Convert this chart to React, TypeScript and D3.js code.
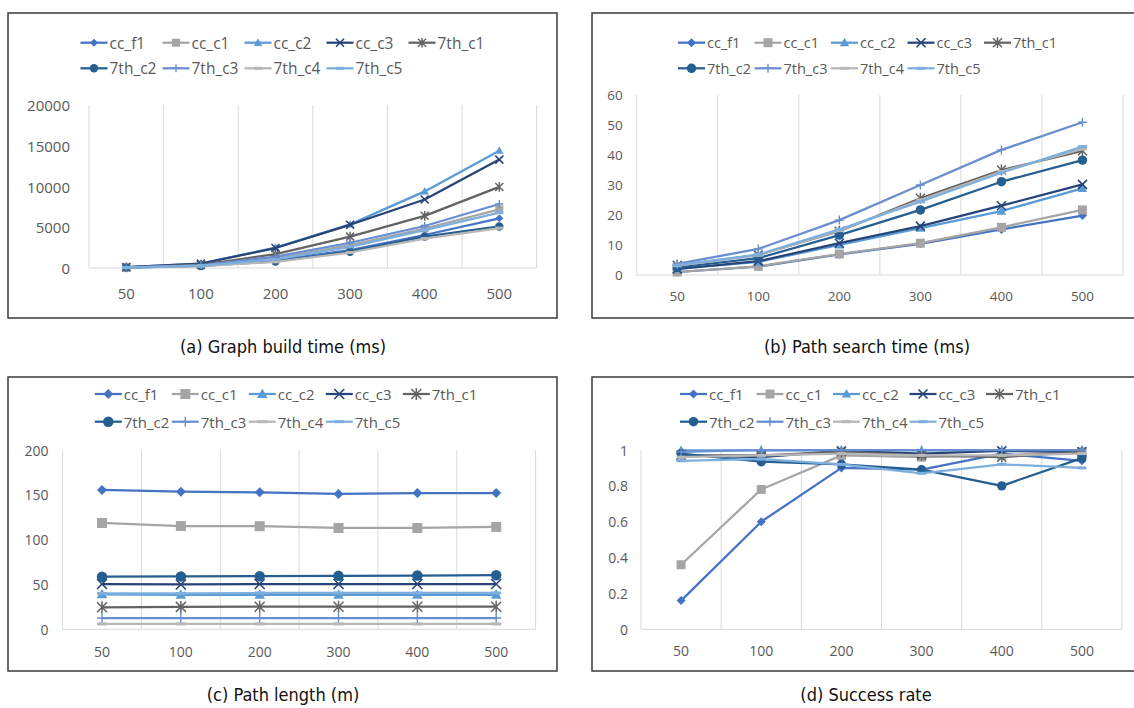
import React from 'react';
import * as d3 from 'd3';

const categories = ['50', '100', '200', '300', '400', '500'];
const seriesNames = ['cc_f1', 'cc_c1', 'cc_c2', 'cc_c3', '7th_c1', '7th_c2', '7th_c3', '7th_c4', '7th_c5'];
const seriesColors = ['#4472C4', '#A5A5A5', '#5B9BD5', '#264478', '#636363', '#255E91', '#698ED0', '#B7B7B7', '#7CAFDD'];
const seriesMarkers = ['diamond', 'square', 'triangle', 'x', 'star', 'circle', 'plus', 'dash', 'dash'];

// (a) graph build time, ms
const buildTime = [
  [60, 300, 950, 2200, 4050, 6100],
  [70, 320, 1200, 2800, 4850, 7200],
  [100, 550, 2500, 5350, 9400, 14400],
  [100, 530, 2450, 5300, 8400, 13300],
  [80, 400, 1700, 3850, 6400, 9950],
  [50, 250, 800, 2000, 3850, 5100],
  [70, 330, 1400, 3100, 5150, 7850],
  [40, 230, 750, 1900, 3600, 4900],
  [60, 300, 1050, 2600, 4650, 6800],
];
const buildTicks = [0, 5000, 10000, 15000, 20000];

// (b) path search time, ms
const searchTime = [
  [1, 2.8, 6.9, 10.4, 15.2, 19.8],
  [1, 2.9, 7.0, 10.6, 15.9, 21.7],
  [2, 4.4, 10.0, 15.6, 21.3, 28.9],
  [2, 4.6, 10.6, 16.3, 23.1, 30.2],
  [3.2, 6.7, 14.6, 25.6, 35, 41.4],
  [2.5, 5.6, 13.3, 21.7, 31.1, 38.3],
  [3.7, 8.7, 18.3, 30, 41.7, 50.9],
  [3.1, 6.6, 14.8, 25, 34.5, 42],
  [3.3, 6.8, 15.2, 24.4, 34.1, 42.8],
];
const searchTicks = [0, 10, 20, 30, 40, 50, 60];

// (c) path length, m
const pathLength = [
  [155.5, 153.5, 152.8, 151, 152, 152],
  [118.6, 115.2, 115, 113, 113, 114.2],
  [39, 38.5, 38.5, 38.5, 38.5, 38.5],
  [50.5, 50, 50.5, 50.5, 50.5, 50.5],
  [24.5, 25, 25.2, 25.2, 25.2, 25.2],
  [58.7, 59, 59.3, 59.6, 60, 60.3],
  [12.6, 12.6, 12.6, 12.6, 12.6, 12.6],
  [6, 6, 6, 6, 6, 6],
  [40, 40, 40.5, 40.5, 40.5, 40.5],
];
const lengthTicks = [0, 50, 100, 150, 200];

// (d) success rate
const successRate = [
  [0.16, 0.6, 0.9, 0.89, 0.98, 0.94],
  [0.36, 0.78, 0.97, 0.96, 0.97, 0.99],
  [0.998, 0.998, 0.998, 0.998, 0.998, 0.998],
  [0.97, 0.96, 0.995, 0.98, 0.995, 0.99],
  [0.97, 0.97, 0.99, 0.97, 0.96, 0.99],
  [0.98, 0.935, 0.92, 0.89, 0.8, 0.955],
  [0.99, 1, 1, 1, 1, 1],
  [0.96, 0.97, 0.98, 0.97, 0.97, 0.98],
  [0.94, 0.95, 0.92, 0.87, 0.92, 0.9],
];
const rateTicks = [0, 0.2, 0.4, 0.6, 0.8, 1];
const rateTickLabels = ['0', '0.2', '0.4', '0.6', '0.8', '1'];

const panels = [
  {
    title: '(a) Graph build time (ms)', data: buildTime, ticks: buildTicks, tickLabels: buildTicks.map(String),
    box: [8, 13, 549, 305], plot: [89, 536.6, 105, 268], titlePos: [283, 346],
    legend: { x: 80.5, pitch: 82, rows: [42.7, 68.3], font: 15.5 }, font: 15, labelGap: 19, xLabelY: 293, ms: 4,
  },
  {
    title: '(b) Path search time (ms)', data: searchTime, ticks: searchTicks, tickLabels: searchTicks.map(String),
    box: [592, 13, 560, 305], plot: [636.7, 1123, 95, 275], titlePos: [867, 346],
    legend: { x: 678, pitch: 76.5, rows: [42.7, 68.3], font: 14.5 }, font: 13.5, labelGap: 14, xLabelY: 296, ms: 4.5,
  },
  {
    title: '(c) Path length (m)', data: pathLength, ticks: lengthTicks, tickLabels: lengthTicks.map(String),
    box: [8, 377, 549, 294], plot: [62.6, 535.6, 450, 629.3], titlePos: [283, 694],
    legend: { x: 94.8, pitch: 77, rows: [394, 421.7], font: 15 }, font: 14, labelGap: 14, xLabelY: 651, ms: 5,
  },
  {
    title: '(d) Success rate', data: successRate, ticks: rateTicks, tickLabels: rateTickLabels,
    box: [592, 377, 560, 294], plot: [641, 1122, 450, 629.3], titlePos: [866, 694],
    legend: { x: 680, pitch: 76.5, rows: [394, 421.7], font: 15 }, font: 14, labelGap: 13, xLabelY: 650, ms: 4.5,
  },
];

const FONT = '"Open Sans", "Noto Sans", sans-serif';

const Marker = ({ kind, x, y, s, color }) => {
  const t = `translate(${x},${y})`;
  if (kind === 'diamond') return <path transform={t} d={`M0,${-s}L${s},0L0,${s}L${-s},0Z`} fill={color} />;
  if (kind === 'square') return <rect transform={t} x={-s} y={-s} width={2 * s} height={2 * s} fill={color} />;
  if (kind === 'triangle') return <path transform={t} d={`M0,${-s * 1.1}L${s * 1.05},${s * 0.8}L${-s * 1.05},${s * 0.8}Z`} fill={color} />;
  if (kind === 'circle') return <circle transform={t} r={s * 1.05} fill={color} />;
  if (kind === 'dash') return <rect transform={t} x={-s} y={-1.5} width={2 * s} height={3} fill={color} />;
  if (kind === 'x') return <path transform={t} d={`M${-s},${-s}L${s},${s}M${-s},${s}L${s},${-s}`} stroke={color} strokeWidth={1.6} />;
  if (kind === 'plus') return <path transform={t} d={`M${-s},0L${s},0M0,${-s}L0,${s}`} stroke={color} strokeWidth={1.4} />;
  // star
  return <path transform={t} d={`M${-s},${-s}L${s},${s}M${-s},${s}L${s},${-s}M0,${-s * 1.2}L0,${s * 1.2}`} stroke={color} strokeWidth={1.5} />;
};

const Panel = ({ p }) => {
  const [left, right, top, bottom] = p.plot;
  const maxV = p.ticks[p.ticks.length - 1];
  const x = d3.scaleBand().domain(categories).range([left, right]);
  const y = d3.scaleLinear().domain([0, maxV]).range([bottom, top]);
  const cx = (c) => (x(c) ?? 0) + x.bandwidth() / 2;
  const line = d3.line<number>().x((_, i) => cx(categories[i])).y((d) => y(d));
  const [bx, by, bw, bh] = p.box;

  return (
    <g>
      <rect x={bx} y={by} width={bw} height={bh} fill="#fff" stroke="#3a3a3a" strokeWidth={1.5} />
      {/* legend */}
      {seriesNames.map((name, i) => {
        const row = i < 5 ? 0 : 1;
        const col = i < 5 ? i : i - 5;
        const lx = p.legend.x + col * p.legend.pitch;
        const ly = p.legend.rows[row];
        return (
          <g key={name}>
            <line x1={lx} x2={lx + 27} y1={ly} y2={ly} stroke={seriesColors[i]} strokeWidth={2.25} />
            <Marker kind={seriesMarkers[i]} x={lx + 13.5} y={ly} s={p.ms} color={seriesColors[i]} />
            <text x={lx + 29} y={ly} dominantBaseline="central" fontSize={p.legend.font} fill="#595959" fontFamily={FONT}>
              {name}
            </text>
          </g>
        );
      })}
      {/* vertical gridlines */}
      {d3.range(categories.length + 1).map((k) => {
        const gx = left + k * x.bandwidth();
        return <line key={k} x1={gx} x2={gx} y1={top} y2={bottom} stroke="#d9d9d9" strokeWidth={1} />;
      })}
      <line x1={left} x2={right} y1={bottom} y2={bottom} stroke="#d9d9d9" strokeWidth={1} />
      {p.ticks.map((t, k) => (
        <text key={k} x={left - p.labelGap} y={y(t)} textAnchor="end" dominantBaseline="central" fontSize={p.font} fill="#595959" fontFamily={FONT}>
          {p.tickLabels[k]}
        </text>
      ))}
      {categories.map((c) => (
        <text key={c} x={cx(c)} y={p.xLabelY} textAnchor="middle" dominantBaseline="central" fontSize={p.font} fill="#595959" fontFamily={FONT}>
          {c}
        </text>
      ))}
      {/* series */}
      {p.data.map((vals, i) => (
        <g key={i}>
          <path d={line(vals) ?? ''} fill="none" stroke={seriesColors[i]} strokeWidth={2.25} strokeLinejoin="round" />
          {vals.map((v, j) => (
            <Marker key={j} kind={seriesMarkers[i]} x={cx(categories[j])} y={y(v)} s={p.ms} color={seriesColors[i]} />
          ))}
        </g>
      ))}
      <text x={p.titlePos[0]} y={p.titlePos[1]} textAnchor="middle" dominantBaseline="central" fontSize={18}
        fill="#111" fontFamily='"Liberation Sans Narrow", "DejaVu Sans Condensed", sans-serif'>
        {p.title}
      </text>
    </g>
  );
};

export default function App() {
  return (
    <svg width={1134} height={708} style={{ position: 'absolute', left: 0, top: 0, background: '#fff' }}>
      {panels.map((p) => (
        <Panel key={p.title} p={p} />
      ))}
    </svg>
  );
}
